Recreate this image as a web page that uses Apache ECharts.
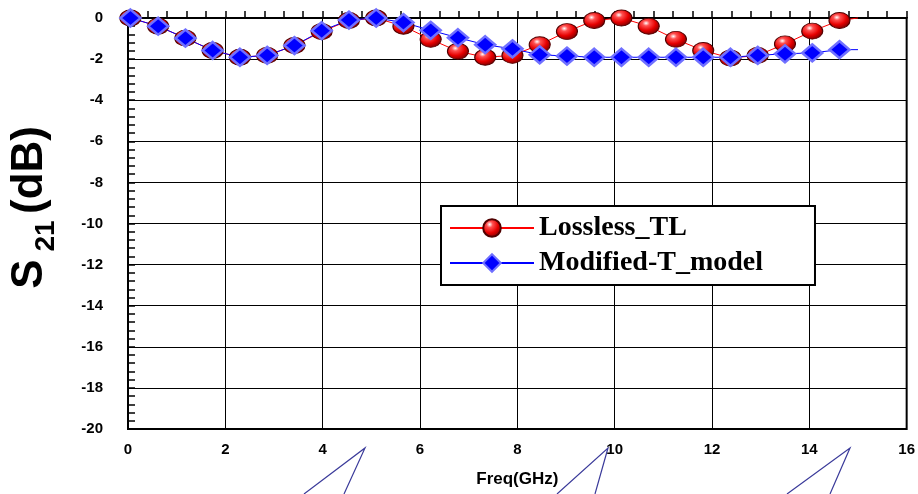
<!DOCTYPE html>
<html>
<head>
<meta charset="utf-8">
<script src="https://cdn.jsdelivr.net/npm/echarts@6/dist/echarts.min.js"></script>
<style>
html,body{margin:0;padding:0;background:#fff;}
#c{width:918px;height:494px;}
</style>
</head>
<body>
<div id="c"></div>
<script>
var freq = [0.05,0.62,1.18,1.74,2.30,2.86,3.42,3.98,4.54,5.10,5.66,6.22,6.78,7.34,7.90,8.46,9.02,9.58,10.14,10.70,11.26,11.82,12.38,12.94,13.50,14.06,14.62,15.0];
var lossless = [0,-0.40,-0.98,-1.58,-1.91,-1.82,-1.34,-0.66,-0.12,0,-0.40,-1.04,-1.62,-1.91,-1.82,-1.30,-0.66,-0.12,0,-0.40,-1.04,-1.58,-1.95,-1.82,-1.26,-0.64,-0.12,0];
var modified = [0,-0.40,-0.98,-1.58,-1.91,-1.82,-1.34,-0.62,-0.10,0,-0.22,-0.60,-0.96,-1.30,-1.50,-1.79,-1.85,-1.91,-1.91,-1.91,-1.91,-1.91,-1.91,-1.82,-1.74,-1.70,-1.54,-1.54];
var xTicks = {min:0, max:16, step:2};
var yTicks = {min:-20, max:0, step:2};
var seriesNames = ['Lossless_TL','Modified-T_model'];

function build(vals){
  return freq.map(function(f,i){
    var d = {value:[f, vals[i]]};
    if (i === freq.length-1) d.symbol = 'none';
    return d;
  });
}

var chart = echarts.init(document.getElementById('c'), null, {renderer:'canvas'});
var redSphere = {type:'radial', x:0.38, y:0.32, r:0.72, colorStops:[
  {offset:0,color:'#ffffff'},{offset:0.22,color:'#ff5050'},{offset:0.6,color:'#e60000'},{offset:1,color:'#700000'}]};

var option = {
  animation:false,
  backgroundColor:'#ffffff',
  grid:{left:128, top:18, width:782, height:411, show:true, borderColor:'#000', borderWidth:2},
  xAxis:{
    type:'value', min:xTicks.min, max:xTicks.max, interval:xTicks.step,
    name:'Freq(GHz)', nameLocation:'middle', nameGap:42,
    nameTextStyle:{fontFamily:'Liberation Sans', fontWeight:'bold', fontSize:17, color:'#000'},
    axisLine:{lineStyle:{color:'#000', width:2}},
    axisTick:{inside:true, length:7, lineStyle:{color:'#000', width:1.5}},
    minorTick:{show:true, splitNumber:5, length:7, lineStyle:{color:'#000', width:1.5}},
    axisLabel:{margin:13, fontFamily:'Liberation Sans', fontWeight:'bold', fontSize:15, color:'#000'},
    splitLine:{show:true, lineStyle:{color:'#000', width:1}}
  },
  yAxis:{
    type:'value', min:yTicks.min, max:yTicks.max, interval:yTicks.step,
    axisLine:{lineStyle:{color:'#000', width:2}},
    axisTick:{inside:true, length:7, lineStyle:{color:'#000', width:1.5}},
    minorTick:{show:true, splitNumber:5, length:7, lineStyle:{color:'#000', width:1.5}},
    axisLabel:{margin:25, fontFamily:'Liberation Sans', fontWeight:'bold', fontSize:15, color:'#000'},
    splitLine:{show:true, lineStyle:{color:'#000', width:1}}
  },
  legend:{
    left:441, top:206, orient:'vertical',
    padding:[8,52,8,8], itemGap:7, itemWidth:84, itemHeight:22,
    borderColor:'#000', borderWidth:2, backgroundColor:'#fff',
    textStyle:{fontFamily:'Liberation Serif', fontWeight:'bold', fontSize:28, color:'#000'},
    data:seriesNames
  },
  series:[
    {name:seriesNames[0], type:'line', data:build(lossless), clip:false,
     symbol:'circle', symbolSize:[21,16],
     lineStyle:{color:'#ff0000', width:1},
     itemStyle:{color:redSphere, borderColor:'#500000', borderWidth:1}},
    {name:seriesNames[1], type:'line', data:build(modified), clip:false,
     symbol:'diamond', symbolSize:[20,17],
     lineStyle:{color:'#0000ff', width:1},
     itemStyle:{color:'#0000ff', borderColor:'#7070ff', borderWidth:2.5}}
  ],
  graphic:[
    {type:'text', x:30, y:274, rotation:Math.PI/2,
     style:{text:'S', fontFamily:'Liberation Sans', fontWeight:'bold', fontSize:44, fill:'#000', align:'center', verticalAlign:'middle'}},
    {type:'text', x:46, y:236, rotation:Math.PI/2,
     style:{text:'21', fontFamily:'Liberation Sans', fontWeight:'bold', fontSize:28, fill:'#000', align:'center', verticalAlign:'middle'}},
    {type:'text', x:30, y:170, rotation:Math.PI/2,
     style:{text:'(dB)', fontFamily:'Liberation Sans', fontWeight:'bold', fontSize:44, fill:'#000', align:'center', verticalAlign:'middle'}},
    {type:'polyline', shape:{points:[[304,494],[365,448],[344,494]]}, style:{stroke:'#3a3a9a', lineWidth:1.2, fill:null}},
    {type:'polyline', shape:{points:[[557,494],[608,448],[595,494]]}, style:{stroke:'#3a3a9a', lineWidth:1.2, fill:null}},
    {type:'polyline', shape:{points:[[787,494],[850,448],[830,494]]}, style:{stroke:'#3a3a9a', lineWidth:1.2, fill:null}}
  ]
};
chart.setOption(option);
</script>
</body>
</html>
